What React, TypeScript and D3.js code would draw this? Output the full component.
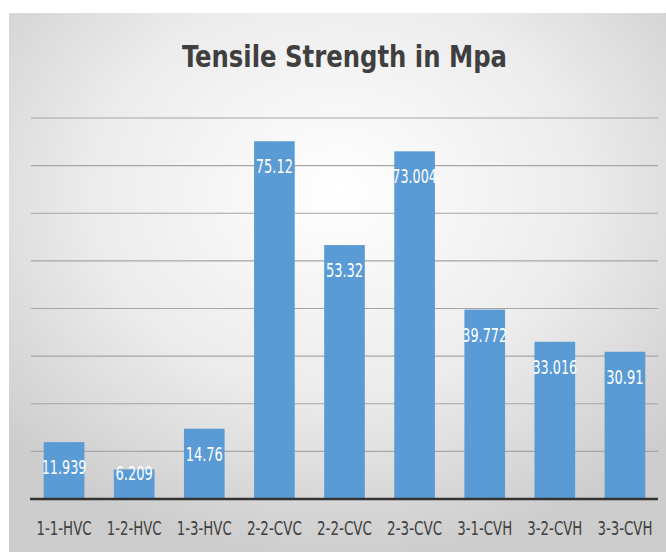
import React from "react";
import * as d3 from "d3";

const categories = ["1-1-HVC", "1-2-HVC", "1-3-HVC", "2-2-CVC", "2-2-CVC", "2-3-CVC", "3-1-CVH", "3-2-CVH", "3-3-CVH"];
const values = [11.939, 6.209, 14.76, 75.12, 53.32, 73.004, 39.772, 33.016, 30.91];
const labels = ["11.939", "6.209", "14.76", "75.12", "53.32", "73.004", "39.772", "33.016", "30.91"];
const gridTicks = [10, 20, 30, 40, 50, 60, 70, 80];
const title = "Tensile Strength in Mpa";

const W = 666;
const H = 552;
const FONT = "'Liberation Sans Narrow', 'DejaVu Sans Condensed', 'Roboto Condensed', 'Liberation Sans', sans-serif";

export default function App() {
  const x = d3.scaleBand<number>().domain(d3.range(categories.length)).range([29, 660]).paddingInner(0.42).paddingOuter(0.21);
  const y = d3.scaleLinear().domain([0, 80]).range([499, 118]);
  const bw = x.bandwidth();

  return (
    <svg width={W} height={H} style={{ position: "absolute", left: 0, top: 0 }}>
      <defs>
        <radialGradient id="bg" cx="50%" cy="33%" r="68%">
          <stop offset="0%" stopColor="#ffffff" />
          <stop offset="55%" stopColor="#ececec" />
          <stop offset="100%" stopColor="#cdcdcd" />
        </radialGradient>
      </defs>
      <rect x={0} y={0} width={W} height={H} fill="#ffffff" />
      <rect x={9} y={13} width={W - 9} height={H - 13} fill="url(#bg)" />
      <text
        x={344.5}
        y={67}
        textAnchor="middle"
        fontFamily={FONT}
        fontWeight="bold"
        fontSize={30}
        fill="#3f3f3f"
        textLength={325}
        lengthAdjust="spacingAndGlyphs"
      >
        {title}
      </text>
      {gridTicks.map((t) => (
        <line key={t} x1={31} x2={658} y1={y(t)} y2={y(t)} stroke="#a6a6a6" strokeWidth={1.2} />
      ))}
      {values.map((v, i) => (
        <rect key={i} x={x(i)} y={y(v)} width={bw} height={y(0) - y(v)} fill="#5b9bd5" />
      ))}
      <line x1={30} x2={658} y1={y(0)} y2={y(0)} stroke="#333333" strokeWidth={2.5} />
      {values.map((v, i) => (
        <text
          key={"l" + i}
          x={(x(i) as number) + bw / 2}
          y={Math.min(y(v) + 32, y(0) - 19)}
          textAnchor="middle"
          fontFamily={FONT}
          fontSize={20}
          fill="#ffffff"
          textLength={labels[i].length * 7.45}
          lengthAdjust="spacingAndGlyphs"
        >
          {labels[i]}
        </text>
      ))}
      {categories.map((c, i) => (
        <text
          key={"c" + i}
          x={(x(i) as number) + bw / 2}
          y={535}
          textAnchor="middle"
          fontFamily={FONT}
          fontSize={19}
          fill="#404040"
          textLength={55}
          lengthAdjust="spacingAndGlyphs"
        >
          {c}
        </text>
      ))}
    </svg>
  );
}
